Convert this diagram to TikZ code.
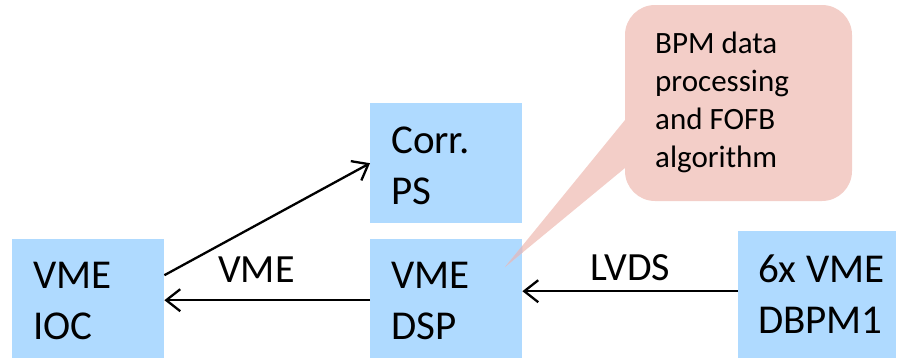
\documentclass[tikz,border=0pt]{standalone}
\usepackage{fontspec}
\setmainfont{Carlito}
\usetikzlibrary{arrows.meta}
\definecolor{boxblue}{RGB}{175,218,255}
\definecolor{callpink}{RGB}{243,206,200}
\definecolor{tipmix}{RGB}{212,192,205}
\begin{document}
\begin{tikzpicture}[x=1pt,y=-1pt,
  blk/.style={fill=boxblue, inner sep=0pt, anchor=north west},
  btxt/.style={font=\fontsize{41}{51}\selectfont, align=left, inner sep=0pt, anchor=west},
  lbl/.style={font=\fontsize{40}{48}\selectfont, inner sep=0pt},
  ctxt/.style={font=\fontsize{31}{38}\selectfont, align=left, inner sep=0pt, anchor=north west},
  arr/.style={line width=2.3pt, -{Straight Barb[length=14pt,width=22pt,line width=2.3pt]}}]
\useasboundingbox (0,0) rectangle (897,359);

% boxes
\node[blk, minimum width=152pt, minimum height=119pt] (ioc) at (12,239) {};
\node[blk, minimum width=152pt, minimum height=120pt] (corr) at (370,103) {};
\node[blk, minimum width=152pt, minimum height=119pt] (dsp) at (370,239) {};
\node[blk, minimum width=158pt, minimum height=127pt] (dbpm) at (738,231) {};

% box texts
\node[btxt] (iocT) at ([xshift=21pt,yshift=-2pt]ioc.west) {VME\\IOC};
\node[btxt] (corrT) at ([xshift=21pt,yshift=-2.5pt]corr.west) {Corr.\\PS};
\node[btxt] (dspT) at ([xshift=21pt,yshift=-2pt]dsp.west) {VME\\DSP};
\node[btxt] (dbpmT) at ([xshift=20pt,yshift=1pt]dbpm.west) {6x VME\\DBPM1};

% callout
\fill[callpink, rounded corners=30pt] (625,5) rectangle (852,201);
\fill[callpink] (625,120) -- (505,267) -- (625,168) -- cycle;
\begin{scope}
  \clip (dsp.north west) rectangle (dsp.south east);
  \fill[tipmix] (625,120) -- (505,267) -- (625,168) -- cycle;
\end{scope}
\node[ctxt] (callT) at (655,32) {BPM data\\processing\\and FOFB\\algorithm};

% connectors
\draw[arr] ([yshift=23.5pt]ioc.east) -- (corr.west);
\draw[arr] ([yshift=-1.5pt]dsp.west) -- ([yshift=-1.5pt]ioc.east);
\draw[arr] ([yshift=3.5pt]dbpm.west) coordinate (l1) -- (dsp.east |- l1);

% labels
\node[lbl] (vmeL) at (256.5,269.5) {VME};
\node[lbl] (lvdsL) at (630.5,267.5) {LVDS};
\end{tikzpicture}
\end{document}
